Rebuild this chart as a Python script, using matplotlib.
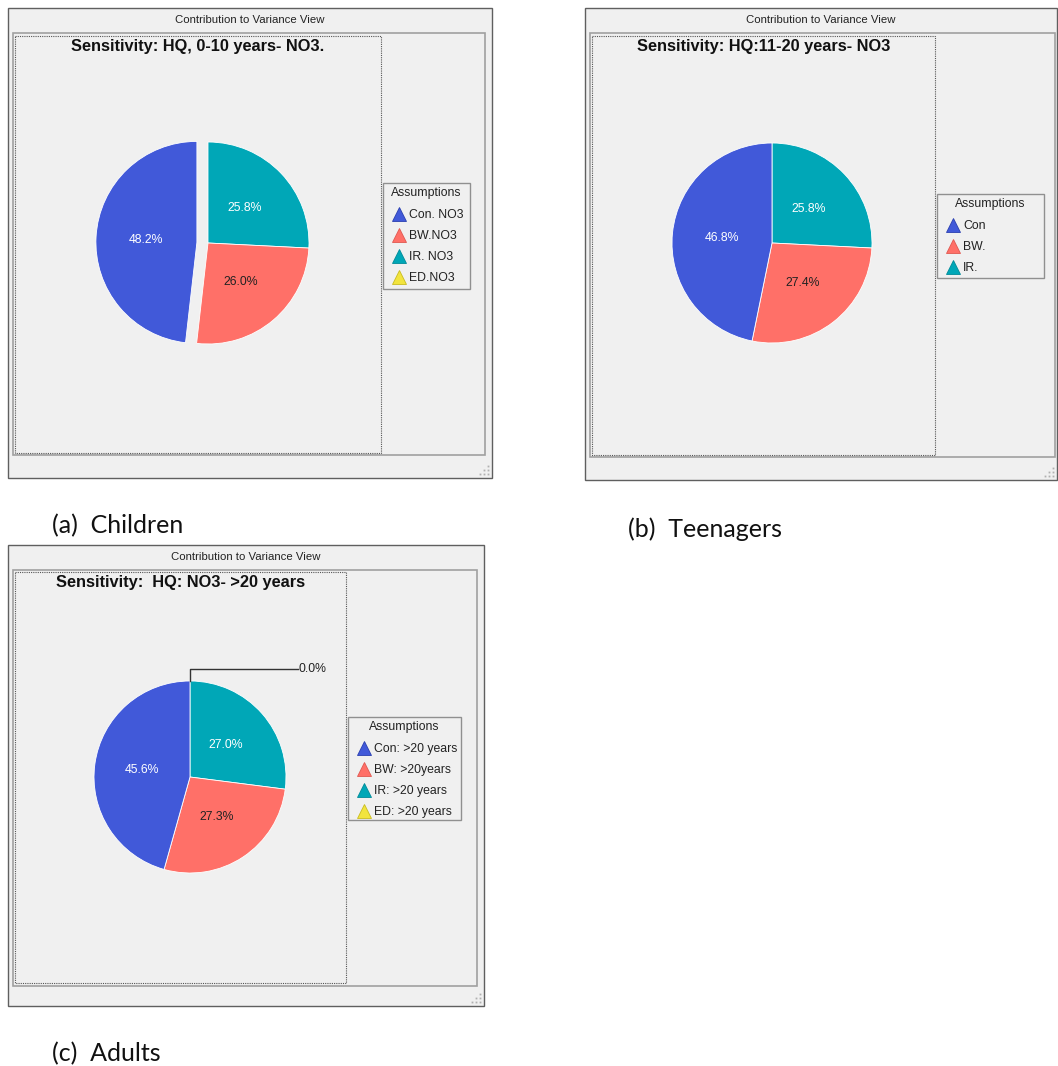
import numpy as np
import matplotlib.pyplot as plt
from matplotlib.patches import Rectangle

plt.rcParams['font.family'] = ['Liberation Sans', 'DejaVu Sans']

W, H = 1058, 1066

# legend order: Con, BW, IR, ED
children_labels = ["Con. NO3", "BW.NO3", "IR. NO3", "ED.NO3"]
children_values = [48.2, 26.0, 25.8, 0.0]
teen_labels = ["Con", "BW.", "IR."]
teen_values = [46.8, 27.4, 25.8]
adult_labels = ["Con: >20 years", "BW: >20years", "IR: >20 years", "ED: >20 years"]
adult_values = [45.6, 27.3, 27.0, 0.0]

slice_colors = ["#4159D9", "#FF7068", "#00A7B7", "#F2E43E"]
edge_colors = ["#2A3FB0", "#E05850", "#008A98", "#C9BC20"]
text_colors = ["white", "#222222", "white", "#222222"]

titles = ["Sensitivity: HQ, 0-10 years- NO3.",
          "Sensitivity: HQ:11-20 years- NO3",
          "Sensitivity:  HQ: NO3- >20 years"]
captions = ["(a)  Children", "(b)  Teenagers", "(c)  Adults"]

fig = plt.figure(figsize=(W / 100, H / 100), dpi=100)
fig.patch.set_facecolor("white")

bg = fig.add_axes([0, 0, 1, 1])
bg.set_xlim(0, W)
bg.set_ylim(H, 0)
bg.axis("off")


def window(outer, inner, dotted, title):
    x0, y0, x1, y1 = outer
    bg.add_patch(Rectangle((x0, y0), x1 - x0, y1 - y0, facecolor="#F0F0F0",
                           edgecolor="#5F5F5F", lw=1.0))
    bg.text((x0 + x1) / 2, y0 + 12, "Contribution to Variance View",
            ha="center", va="center", fontsize=8.2, color="#222222")
    ix0, iy0, ix1, iy1 = inner
    bg.add_patch(Rectangle((ix0, iy0), ix1 - ix0, iy1 - iy0, facecolor="#F0F0F0",
                           edgecolor="#A0A0A0", lw=1.2))
    dx0, dy0, dx1, dy1 = dotted
    bg.add_patch(Rectangle((dx0, dy0), dx1 - dx0, dy1 - dy0, facecolor="none",
                           edgecolor="#555555", lw=0.8, linestyle=(0, (1, 1))))
    bg.text((dx0 + dx1) / 2, dy0 + 10, title, ha="center", va="center",
            fontsize=11.8, fontweight="bold", color="#111111")
    # resize grip
    for gx, gy in [(-4, -4), (-8, -4), (-12, -4), (-4, -8), (-8, -8), (-4, -12)]:
        bg.plot(x1 + gx, y1 + gy, "s", ms=1.3, color="#B0B0B0", mew=0)


def legend_box(x0, y0, x1, y1, labels, idx):
    bg.add_patch(Rectangle((x0, y0), x1 - x0, y1 - y0, facecolor="#F0F0F0",
                           edgecolor="#909090", lw=1.0))
    bg.text((x0 + x1) / 2, y0 + 10, "Assumptions", ha="center", va="center",
            fontsize=8.8, color="#222222")
    for n, lab in enumerate(labels):
        yy = y0 + 31 + 21 * n
        bg.plot(x0 + 16, yy, "^", ms=10, color=slice_colors[idx[n]],
                mec=edge_colors[idx[n]], mew=0.6)
        bg.text(x0 + 26, yy + 1, lab, ha="left", va="center", fontsize=8.8,
                color="#222222")


def draw_pie(cx, cy, r, values, explode_con=0.0, zero_label=False):
    k = 1.6
    ax = fig.add_axes([(cx - k * r) / W, 1 - (cy + k * r) / H,
                       2 * k * r / W, 2 * k * r / H])
    # clockwise from 12 o'clock: IR, BW, Con, ED
    order = [i for i in [2, 1, 0, 3] if i < len(values) and values[i] > 0]
    vals = [values[i] for i in order]
    cols = [slice_colors[i] for i in order]
    expl = [explode_con if i == 0 else 0 for i in order]
    wedges, _, autotexts = ax.pie(vals, colors=cols, explode=expl, startangle=90,
                                  counterclock=False, autopct="%.1f%%",
                                  pctdistance=0.5, radius=1,
                                  wedgeprops=dict(edgecolor="white", linewidth=0.6),
                                  textprops=dict(fontsize=8.8))
    for t, i in zip(autotexts, order):
        t.set_color(text_colors[i])
    if zero_label:
        zero_vals = [v for v in values if v == 0]
        ang = np.deg2rad(90 - 360 * sum(vals) / sum(vals))
        px, py = np.cos(ang), np.sin(ang)
        ax.plot([px, px, px + 1.12], [py, py + 0.13, py + 0.13], color="#333333", lw=1.0)
        ax.text(px + 1.13, py + 0.13, "%.1f%%" % zero_vals[0], ha="left",
                va="center", fontsize=8.8, color="#222222")
    ax.set_xlim(-k, k)
    ax.set_ylim(-k, k)
    ax.axis("off")


# (a) children
window((8, 8, 492, 478), (13, 33, 485, 455), (15, 36, 381, 453), titles[0])
legend_box(383, 183, 470, 289, children_labels, [0, 1, 2, 3])
draw_pie(208, 243, 101, children_values, explode_con=0.11)

# (b) teenagers
window((585, 8, 1057, 480), (590, 33, 1055, 457), (592, 36, 935, 455), titles[1])
legend_box(937, 194, 1044, 278, teen_labels, [0, 1, 2])
draw_pie(772, 243, 100, teen_values)

# (c) adults
window((8, 545, 484, 1006), (13, 570, 477, 986), (15, 572, 346, 983), titles[2])
legend_box(348, 717, 461, 820, adult_labels, [0, 1, 2, 3])
draw_pie(190, 777, 96, adult_values, zero_label=True)

cap_pos = [(52, 526), (628, 529), (52, 1054)]
for (x, y), cap in zip(cap_pos, captions):
    bg.text(x, y, cap, ha="left", va="center", fontsize=18, color="#111111",
            family=["Lato", "DejaVu Sans"])

fig.savefig("out.png", dpi=100, facecolor="white")
